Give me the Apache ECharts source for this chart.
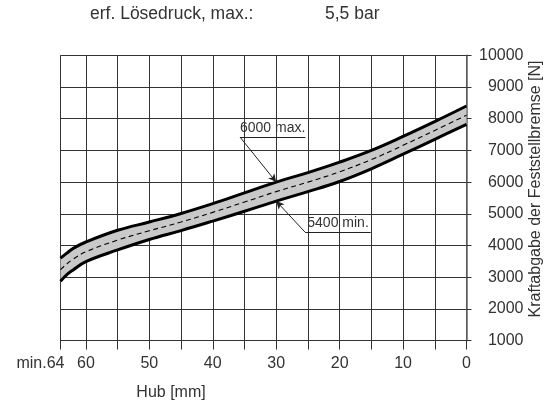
<!DOCTYPE html>
<html><head><meta charset="utf-8">
<script src="https://cdn.jsdelivr.net/npm/echarts@6/dist/echarts.min.js"></script>
<style>html,body{margin:0;padding:0;background:#fff}#c{width:554px;height:406px}</style>
</head><body><div id="c"></div>
<script>
// ---- data ----
const hubMM       = [64, 63, 62, 60, 55, 50, 45, 40, 35, 30, 25, 20, 15, 10, 5, 0];
const kraftMax    = [3600, 3760, 3910, 4110, 4480, 4740, 5010, 5320, 5660, 6000, 6300, 6630, 7000, 7440, 7910, 8400];
const kraftMin    = [2870, 3080, 3230, 3490, 3860, 4190, 4470, 4770, 5080, 5400, 5700, 6020, 6420, 6880, 7350, 7820];
const kraftMittel = [3240, 3420, 3570, 3800, 4170, 4465, 4740, 5045, 5370, 5700, 6000, 6325, 6710, 7160, 7630, 8110];
const xTickLabels = {64: 'min.64', 60: '60', 50: '50', 40: '40', 30: '30', 20: '20', 10: '10', 0: '0'};
const titleLabel = 'erf. Lösedruck, max.:';
const titleValue = '5,5 bar';
const annotMax = {hub: 30, kraft: 6000, text: '6000 max.'};
const annotMin = {hub: 30, kraft: 5400, text: '5400 min.'};

const FONT = "'Liberation Sans', Arial, Helvetica, sans-serif";
const TXT = '#333';
const GRID = '#333';

const pairs = arr => hubMM.map((h, i) => [h, arr[i]]);
// band data with the force value first so that stacking applies to the force dimension
const bandBase = hubMM.map((h, i) => [kraftMin[i], h]);
const bandDiff = hubMM.map((h, i) => [kraftMax[i] - kraftMin[i], h]);

function leader(a, dxMM, dyN, lenMM) {
  const sx = a.hub + dxMM, sy = a.kraft + dyN;
  return [
    [{coord: [sx, sy], symbol: 'none'}, {coord: [a.hub, a.kraft], symbol: 'arrow', symbolSize: [6, 8]}],
    [{coord: [sx, sy], symbol: 'none'}, {coord: [sx - lenMM, sy], symbol: 'none',
      label: {show: true, formatter: a.text, position: 'insideMiddleTop', distance: 2,
        color: TXT, fontSize: 14, fontFamily: FONT}}]
  ];
}

const chart = echarts.init(document.getElementById('c'), null, {renderer: 'canvas'});
chart.setOption({
  animation: false,
  textStyle: {fontFamily: FONT, color: TXT},
  title: [
    {text: titleLabel, left: 85, top: 0, textStyle: {fontSize: 17.5, fontWeight: 'normal', color: TXT, fontFamily: FONT}},
    {text: titleValue, left: 320, top: 0, textStyle: {fontSize: 17.5, fontWeight: 'normal', color: TXT, fontFamily: FONT}}
  ],
  grid: {left: 60.5, right: 87.5, top: 55.3, bottom: 65.4, containLabel: false, outerBoundsMode: 'none'},
  xAxis: {
    type: 'value', inverse: true, min: 0, max: 64, interval: 5,
    name: 'Hub [mm]', nameLocation: 'middle', nameGap: 44, nameMoveOverlap: false,
    nameTextStyle: {fontSize: 16, color: TXT, fontFamily: FONT, padding: [0, 185, 0, 0]},
    axisLine: {show: true, lineStyle: {color: GRID, width: 1}},
    axisTick: {show: true, inside: false, length: 9, lineStyle: {color: GRID}},
    axisLabel: {
      show: true, margin: 15, fontSize: 16, color: TXT, fontFamily: FONT,
      showMinLabel: true, showMaxLabel: true,
      formatter: v => v === 64 ? '{m|' + xTickLabels[64] + '}' : (xTickLabels[v] !== undefined ? xTickLabels[v] : ''),
      rich: {m: {fontSize: 16, color: TXT, fontFamily: FONT, padding: [0, 40, 0, 0]}}
    },
    splitLine: {show: true, lineStyle: {color: GRID, width: 1}}
  },
  yAxis: {
    type: 'value', position: 'right', min: 1000, max: 10000, interval: 1000,
    name: 'Kraftabgabe der Feststellbremse [N]', nameLocation: 'middle', nameRotate: 90, nameGap: 61, nameMoveOverlap: false,
    nameTextStyle: {fontSize: 16, color: TXT, fontFamily: FONT, padding: [0, 0, 0, 18]},
    axisLine: {show: true, lineStyle: {color: '#666', width: 1.5}},
    axisTick: {show: true, inside: false, length: 5, lineStyle: {color: GRID}},
    axisLabel: {show: true, align: 'right', margin: 57, fontSize: 16, color: TXT, fontFamily: FONT,
      formatter: v => String(v)},
    splitLine: {show: true, lineStyle: {color: GRID, width: 1}}
  },
  series: [
    {type: 'line', name: 'base', data: bandBase, encode: {x: 1, y: 0}, stack: 'band', smooth: 0.4, symbol: 'none',
      lineStyle: {width: 0, opacity: 0}, areaStyle: {opacity: 0}, silent: true, z: 2},
    {type: 'line', name: 'band', data: bandDiff, encode: {x: 1, y: 0}, stack: 'band', smooth: 0.4, symbol: 'none',
      lineStyle: {width: 0, opacity: 0}, areaStyle: {color: '#c9c9c9', opacity: 1}, silent: true, z: 2},
    {type: 'line', name: 'max', data: pairs(kraftMax), smooth: 0.4, symbol: 'none',
      lineStyle: {color: '#000', width: 3}, z: 4},
    {type: 'line', name: 'min', data: pairs(kraftMin), smooth: 0.4, symbol: 'none',
      lineStyle: {color: '#000', width: 3}, z: 4},
    {type: 'line', name: 'mittel', data: pairs(kraftMittel), smooth: 0.4, symbol: 'none',
      lineStyle: {color: '#000', width: 1.1, type: [5, 3.5]}, z: 5,
      markLine: {
        silent: true, animation: false, symbol: ['none', 'none'],
        lineStyle: {color: '#222', width: 1, type: 'solid'},
        label: {show: false},
        data: [].concat(leader(annotMax, 5.7, 1420, 10.3), leader(annotMin, -4.6, -990, 10.3))
      }}
  ]
});
</script></body></html>
